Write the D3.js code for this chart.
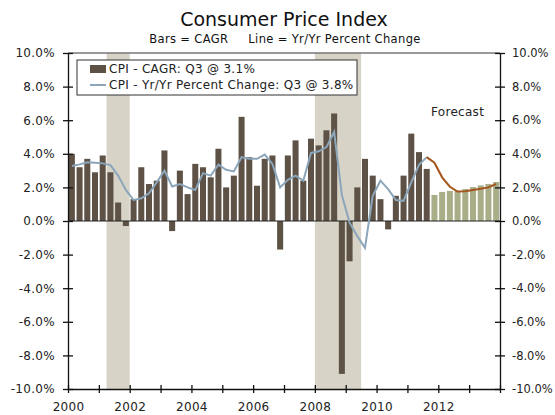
<!DOCTYPE html>
<html>
<head>
<meta charset="utf-8">
<script src="https://cdn.jsdelivr.net/npm/d3@7"></script>
<style>
  body { margin: 0; background: #fff; }
  svg { font-family: "DejaVu Sans", Verdana, sans-serif; }
</style>
</head>
<body>
<div id="chart"></div>
<script>
// Quarters: 2000 Q1 through 2013 Q4
const startYear = 2000;
const endYear = 2014;

// CAGR bars, actual (2000 Q1 - 2011 Q3)
const cagrActual = [
  4.0, 3.2, 3.7, 2.9,
  3.9, 2.9, 1.1, -0.3,
  1.3, 3.2, 2.2, 2.4,
  4.2, -0.6, 3.0, 1.6,
  3.4, 3.2, 2.6, 4.3,
  2.0, 2.7, 6.2, 3.8,
  2.1, 3.7, 3.9, -1.7,
  3.9, 4.8, 2.4, 4.9,
  4.5, 5.4, 6.4, -9.1,
  -2.4, 2.0, 3.7, 2.7,
  1.3, -0.5, 1.5, 2.7,
  5.2, 4.1, 3.1
];
// CAGR bars, forecast (2011 Q4 - 2013 Q4)
const cagrForecast = [1.55, 1.73, 1.79, 1.8, 1.9, 2.02, 2.12, 2.2, 2.32];

// Yr/Yr percent change line, actual
const yoyActual = [
  3.27, 3.37, 3.49, 3.47,
  3.43, 3.33, 2.7, 1.85,
  1.25, 1.35, 1.65, 2.3,
  3.0, 2.05, 2.2, 2.0,
  1.85, 2.85, 2.7, 3.35,
  3.05, 2.95, 3.8, 3.7,
  3.7, 3.95, 3.4, 2.0,
  2.45, 2.7, 2.4, 4.05,
  4.15, 4.4, 5.3, 1.55,
  -0.1, -0.9, -1.6, 1.5,
  2.4, 1.9, 1.25, 1.2,
  2.3, 3.35, 3.8
];
// Yr/Yr forecast (continues from last actual)
const yoyForecast = [3.47, 2.6, 2.04, 1.75, 1.77, 1.85, 1.92, 2.0, 2.2];

// Recession periods (decimal years)
const recessions = [[2001.25, 2002.0], [2008.0, 2009.5]];

const yTicks = [-10, -8, -6, -4, -2, 0, 2, 4, 6, 8, 10];
const xTicks = d3.range(startYear, endYear + 1);
const xLabels = [2000, 2002, 2004, 2006, 2008, 2010, 2012];

const width = 555;
const height = 415;
const margin = { top: 53, right: 55, bottom: 26, left: 68 };

const svg = d3.select("#chart")
  .append("svg")
  .attr("width", width)
  .attr("height", height);

const quarters = [];
for (let y = startYear; y < endYear; y++) {
  for (let q = 1; q <= 4; q++) quarters.push(y + " Q" + q);
}

const cagr = cagrActual.concat(cagrForecast);
const nActual = cagrActual.length;

const x = d3.scaleLinear()
  .domain([startYear, endYear])
  .range([margin.left, width - margin.right]);

const xb = d3.scaleBand()
  .domain(quarters)
  .range([margin.left, width - margin.right])
  .paddingInner(0.22)
  .paddingOuter(0.11);

const y = d3.scaleLinear()
  .domain([-10, 10])
  .range([height - margin.bottom, margin.top]);

// Recession shading
svg.selectAll(".recession")
  .data(recessions)
  .enter()
  .append("rect")
  .attr("x", d => x(d[0]))
  .attr("y", y(10))
  .attr("width", d => x(d[1]) - x(d[0]))
  .attr("height", y(-10) - y(10))
  .attr("fill", "#d7d3c7");

// Bars
svg.selectAll(".bar")
  .data(cagr)
  .enter()
  .append("rect")
  .attr("x", (d, i) => xb(quarters[i]))
  .attr("y", d => y(Math.max(0, d)))
  .attr("width", xb.bandwidth())
  .attr("height", d => Math.abs(y(d) - y(0)))
  .attr("fill", (d, i) => i < nActual ? "#5e5145" : "#a9ae88");

// Zero line
svg.append("line")
  .attr("x1", x(startYear)).attr("x2", x(endYear))
  .attr("y1", y(0)).attr("y2", y(0))
  .attr("stroke", "#222")
  .attr("stroke-width", 1);

// Top border
svg.append("line")
  .attr("x1", x(startYear)).attr("x2", x(endYear))
  .attr("y1", y(10)).attr("y2", y(10))
  .attr("stroke", "#777")
  .attr("stroke-width", 1.5);

const cx = i => xb(quarters[i]) + xb.bandwidth() / 2;

const line = d3.line()
  .x(d => cx(d.i))
  .y(d => y(d.v));

const actualPts = yoyActual.map((v, i) => ({ i, v }));
const forecastPts = [{ i: nActual - 1, v: yoyActual[nActual - 1] }]
  .concat(yoyForecast.map((v, k) => ({ i: nActual + k, v })));

svg.append("path")
  .datum(actualPts)
  .attr("fill", "none")
  .attr("stroke", "#8ba6ba")
  .attr("stroke-width", 2)
  .attr("d", line);

svg.append("path")
  .datum(forecastPts)
  .attr("fill", "none")
  .attr("stroke", "#a5561c")
  .attr("stroke-width", 2)
  .attr("d", line);

// Axes
const fmt = d => d.toFixed(1) + "%";

const left = svg.append("g")
  .attr("transform", `translate(${margin.left},0)`)
  .call(d3.axisLeft(y).tickValues(yTicks).tickFormat(fmt).tickSizeInner(5).tickSizeOuter(0).tickPadding(8));

const right = svg.append("g")
  .attr("transform", `translate(${width - margin.right},0)`)
  .call(d3.axisRight(y).tickValues(yTicks).tickFormat(fmt).tickSizeInner(5).tickSizeOuter(0).tickPadding(7));

const bottom = svg.append("g")
  .attr("transform", `translate(0,${height - margin.bottom})`)
  .call(d3.axisBottom(x).tickValues(xTicks)
    .tickFormat(d => xLabels.includes(d) ? d : "")
    .tickSizeInner(4).tickSizeOuter(0).tickPadding(9));

[left, right, bottom].forEach(g => {
  g.select(".domain").attr("stroke", "#111").attr("stroke-width", 1.3);
  g.selectAll(".tick line").attr("stroke", "#111").attr("stroke-width", 1.3);
  g.selectAll("text").attr("font-size", "12px").attr("fill", "#222")
    .attr("letter-spacing", "0.3px")
    .attr("font-family", "DejaVu Sans, Verdana, sans-serif");
});
right.selectAll("text").attr("font-size", "11.5px").attr("letter-spacing", "0px");
// ticks cross the axis
left.selectAll(".tick line").attr("x1", 5);
right.selectAll(".tick line").attr("x1", -5);
bottom.selectAll(".tick line").attr("y1", -4);

// Titles
svg.append("text")
  .attr("x", 284).attr("y", 26)
  .attr("text-anchor", "middle")
  .attr("font-size", "19px")
  .attr("fill", "#111")
  .text("Consumer Price Index");

svg.append("text")
  .attr("x", 285).attr("y", 43)
  .attr("text-anchor", "middle")
  .attr("font-size", "11.5px")
  .attr("letter-spacing", "0.35px")
  .attr("fill", "#111")
  .attr("xml:space", "preserve")
  .style("white-space", "pre")
  .text("Bars = CAGR     Line = Yr/Yr Percent Change");

svg.append("text")
  .attr("x", 431).attr("y", 116)
  .attr("font-size", "12px")
  .attr("letter-spacing", "0.3px")
  .attr("fill", "#222")
  .text("Forecast");

// Legend
const legend = svg.append("g");
legend.append("rect")
  .attr("x", 77).attr("y", 60)
  .attr("width", 280).attr("height", 35)
  .attr("fill", "#fff")
  .attr("stroke", "#333")
  .attr("stroke-width", 1);

legend.append("rect")
  .attr("x", 90).attr("y", 65)
  .attr("width", 16).attr("height", 8)
  .attr("fill", "#5e5145");

legend.append("line")
  .attr("x1", 90).attr("x2", 106)
  .attr("y1", 85).attr("y2", 85)
  .attr("stroke", "#8ba6ba")
  .attr("stroke-width", 2);

legend.append("text")
  .attr("x", 109).attr("y", 73)
  .attr("font-size", "12px")
  .attr("letter-spacing", "0.3px")
  .attr("fill", "#222")
  .text("CPI - CAGR: Q3 @ 3.1%");

legend.append("text")
  .attr("x", 109).attr("y", 89)
  .attr("font-size", "12px")
  .attr("letter-spacing", "0.3px")
  .attr("fill", "#222")
  .text("CPI - Yr/Yr Percent Change: Q3 @ 3.8%");
</script>
</body>
</html>
